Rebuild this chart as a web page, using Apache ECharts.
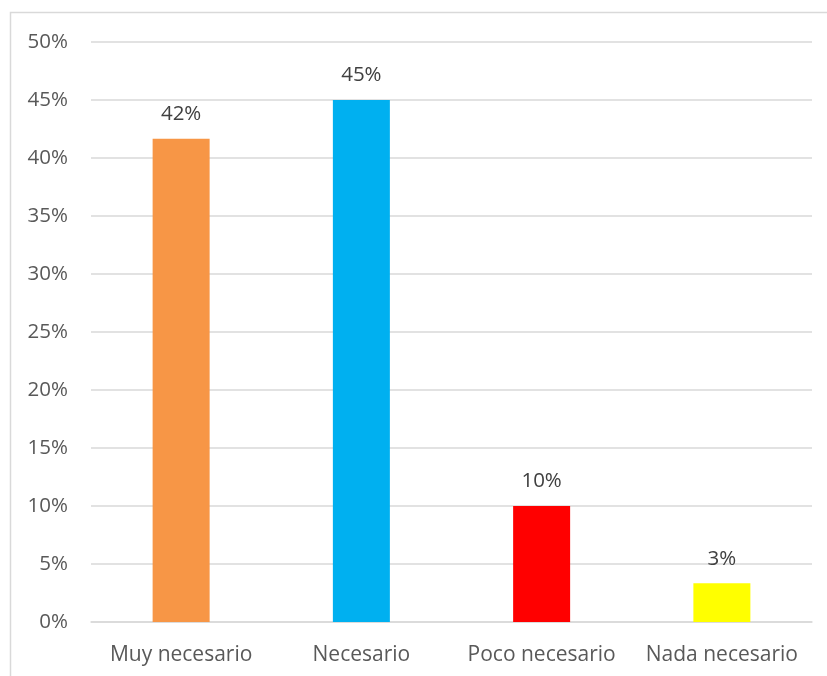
<!DOCTYPE html>
<html><head><meta charset="utf-8">
<script src="https://cdn.jsdelivr.net/npm/echarts@6/dist/echarts.min.js"></script>
<style>html,body{margin:0;padding:0;background:#fff}#c{width:827px;height:676px}</style>
</head><body><div id="c"></div>
<script>
const categories = ['Muy necesario', 'Necesario', 'Poco necesario', 'Nada necesario'];
const values = [41.67, 45, 10, 3.33];
const labels = ['42%', '45%', '10%', '3%'];
const colors = ['#F79646', '#00B0F0', '#FF0000', '#FFFF00'];
const FONT = 'Open Sans';
const chart = echarts.init(document.getElementById('c'));
chart.setOption({
  animation: false,
  graphic: [{type: 'rect', shape: {x: 10.5, y: 12.5, width: 830, height: 700}, style: {fill: 'none', stroke: '#d9d9d9', lineWidth: 1.5}, z: -1}],
  grid: {left: 91, right: 15, top: 42, bottom: 54},
  xAxis: {type: 'category', data: categories,
    axisLine: {lineStyle: {color: '#d9d9d9', width: 1.5}}, axisTick: {show: false},
    axisLabel: {color: '#595959', fontFamily: FONT, fontSize: 21, margin: 23, interval: 0, hideOverlap: false}},
  yAxis: {type: 'value', min: 0, max: 50, interval: 5,
    axisLine: {show: false}, axisTick: {show: false},
    splitLine: {lineStyle: {color: '#d9d9d9', width: 1.5}},
    axisLabel: {color: '#595959', fontFamily: FONT, fontSize: 20.5, margin: 23, formatter: v => v + '%'}},
  series: [{type: 'bar', barWidth: 57,
    data: values.map((v, i) => ({value: v, itemStyle: {color: colors[i]}})),
    label: {show: true, position: 'top', distance: 14, color: '#404040', fontFamily: FONT, fontSize: 20.5,
      formatter: p => labels[p.dataIndex]}}]
});
</script></body></html>
